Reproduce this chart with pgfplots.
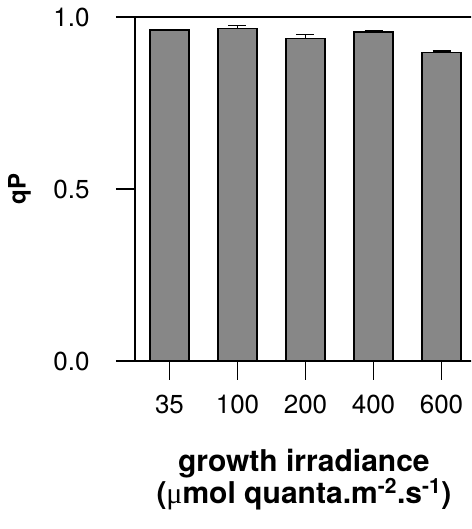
\documentclass[border=0pt]{standalone}
\usepackage{pgfplots}
\pgfplotsset{compat=1.18}
\usepackage{fontspec}
\setmainfont{TeX Gyre Heros}
\newfontfamily\symfont{Liberation Serif}

\begin{document}
\begin{tikzpicture}[x=1pt,y=1pt]
\useasboundingbox (0,0) rectangle (471,529);
\clip (0,0) rectangle (471,529);
\begin{axis}[
  at={(135pt,168pt)}, anchor=south west,
  scale only axis, width=345pt, height=344pt,
  xmin=-0.507, xmax=4.566, ymin=0, ymax=1,
  axis x line=bottom, axis y line=left,
  axis line style={-, line width=1.3pt, black},
  tick align=outside, major tick length=19pt,
  tick style={line width=1.3pt, black},
  xtick={0,1,2,3,4}, xticklabels={35,100,200,400,600},
  ytick={0,0.5,1}, yticklabels={0.0,0.5,1.0},
  /pgf/number format/assume math mode=true,
  tick label style={font=\fontsize{26}{26}\selectfont},
  xticklabel style={yshift=-12pt},
  yticklabel style={anchor=east, xshift=-23pt},
  xlabel={growth irradiance\\({\symfont\mdseries μ}mol quanta.m\textsuperscript{-2}.s\textsuperscript{-1})},
  xlabel style={font=\bfseries\fontsize{30}{28}\selectfont, align=center,
    at={(axis description cs:0.4895,-0.4128)}, anchor=base},
  ylabel={qP},
  ylabel style={font=\bfseries\fontsize{24}{24}\selectfont,
    at={(axis description cs:-0.335,0.5)}, anchor=center},
  clip=false,
]
\addplot[ybar, bar width=39pt, fill=black!47, draw=black, line width=1.3pt,
  error bars/.cd, y dir=plus, y explicit,
  error bar style={line width=1.3pt, black},
  error mark options={rotate=90, mark size=9pt, line width=1.3pt, black}]
  coordinates {
    (0,0.962) +- (0,0)
    (1,0.967) +- (0,0.008)
    (2,0.938) +- (0,0.011)
    (3,0.956) +- (0,0.003)
    (4,0.897) +- (0,0.004)
  };
% line along the top of the frame at qP = 1.0
\draw[line width=1.3pt, black] (rel axis cs:0,1) -- (rel axis cs:1,1);
\end{axis}
\end{tikzpicture}
\end{document}
